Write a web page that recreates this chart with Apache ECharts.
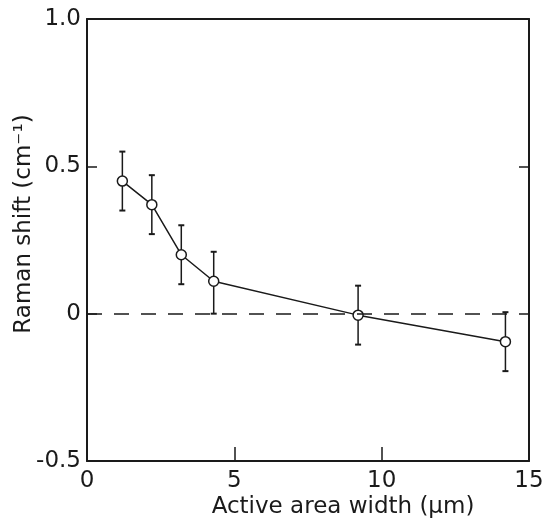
<!DOCTYPE html>
<html><head><meta charset="utf-8">
<script src="https://cdn.jsdelivr.net/npm/echarts@6/dist/echarts.min.js"></script>
<style>html,body{margin:0;padding:0;background:#fff}#c{width:543px;height:522px}</style>
</head><body><div id="c"></div>
<script>
var widths = [1.2, 2.2, 3.2, 4.3, 9.2, 14.2];
var shifts = [0.45, 0.37, 0.20, 0.11, -0.005, -0.095];
var errLow = [0.35, 0.27, 0.10, 0.00, -0.105, -0.195];
var errHigh = [0.55, 0.47, 0.30, 0.21, 0.095, 0.005];
var xTicks = [0, 5, 10, 15];
var yTicks = [-0.5, 0, 0.5, 1.0];

var FONT = 'DejaVu Sans';
var C = '#1a1a1a';
var chart = echarts.init(document.getElementById('c'));
var pts = widths.map(function (w, i) { return [w, shifts[i]]; });
var errs = widths.map(function (w, i) { return [w, errLow[i], errHigh[i]]; });

chart.setOption({
  animation: false,
  backgroundColor: '#fff',
  grid: { left: 87, right: 14, top: 19, bottom: 61, containLabel: false, outerBoundsMode: 'none' },
  xAxis: [{
    type: 'value', min: 0, max: 15, interval: 5,
    name: 'Active area width (μm)', nameLocation: 'middle', nameGap: 35, nameMoveOverlap: false,
    nameTextStyle: { fontFamily: FONT, fontSize: 23, color: C, padding: [0, 0, 0, 70] },
    axisLine: { show: true, onZero: false, lineStyle: { color: C, width: 2 } },
    axisTick: { show: true, inside: true, length: 14, customValues: [5, 10], lineStyle: { color: C, width: 1.5 } },
    axisLabel: { fontFamily: FONT, fontSize: 23, color: C, margin: 9, customValues: xTicks },
    splitLine: { show: false }
  }, {
    type: 'value', min: 0, max: 15, position: 'top',
    axisLine: { show: true, onZero: false, lineStyle: { color: C, width: 2 } },
    axisTick: { show: false }, axisLabel: { show: false }, splitLine: { show: false }
  }],
  yAxis: [{
    type: 'value', min: -0.5, max: 1.0, interval: 0.5,
    name: 'Raman shift (cm⁻¹)', nameLocation: 'middle', nameGap: 51, nameRotate: 90, nameMoveOverlap: false,
    nameTextStyle: { fontFamily: FONT, fontSize: 23, color: C, padding: [0, 0, 0, 32] },
    axisLine: { show: true, onZero: false, lineStyle: { color: C, width: 2 } },
    axisTick: { show: true, inside: true, length: 10, customValues: [0, 0.5], lineStyle: { color: C, width: 1.5 } },
    axisLabel: { fontFamily: FONT, fontSize: 23, color: C, margin: 6, customValues: yTicks,
      formatter: function (v) { return v === 0 ? '0' : (v < 0 ? '-' + Math.abs(v).toFixed(1) : v.toFixed(1)); } },
    splitLine: { show: false }
  }, {
    type: 'value', min: -0.5, max: 1.0, position: 'right',
    axisLine: { show: true, onZero: false, lineStyle: { color: C, width: 2 } },
    axisTick: { show: true, inside: true, length: 10, customValues: [0.5], lineStyle: { color: C, width: 1.5 } },
    axisLabel: { show: false }, splitLine: { show: false }
  }],
  series: [{
    type: 'custom',
    data: errs,
    renderItem: function (params, api) {
      var x = api.value(0);
      var lo = api.coord([x, api.value(1)]);
      var hi = api.coord([x, api.value(2)]);
      var cw = 3;
      return {
        type: 'group',
        children: [
          { type: 'line', shape: { x1: lo[0], y1: lo[1], x2: hi[0], y2: hi[1] }, style: { stroke: C, lineWidth: 1.5 } },
          { type: 'line', shape: { x1: lo[0] - cw, y1: lo[1], x2: lo[0] + cw, y2: lo[1] }, style: { stroke: C, lineWidth: 2 } },
          { type: 'line', shape: { x1: hi[0] - cw, y1: hi[1], x2: hi[0] + cw, y2: hi[1] }, style: { stroke: C, lineWidth: 2 } }
        ]
      };
    },
    z: 1
  }, {
    type: 'line',
    data: pts,
    symbol: 'circle', symbolSize: 10,
    itemStyle: { color: '#fff', borderColor: C, borderWidth: 1.5 },
    lineStyle: { color: C, width: 1.5 },
    z: 3,
    markLine: {
      silent: true, symbol: 'none', label: { show: false },
      lineStyle: { color: C, width: 1.5, type: [15, 12] },
      data: [{ yAxis: 0 }]
    }
  }]
});
</script></body></html>
